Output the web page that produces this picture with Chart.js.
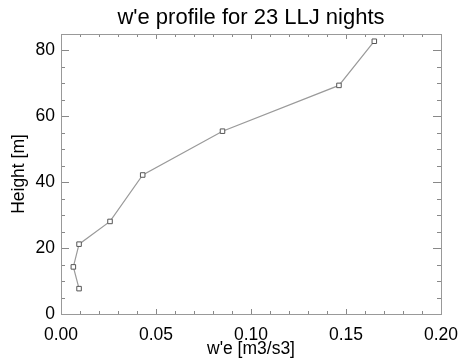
<!DOCTYPE html>
<html>
<head>
<meta charset="utf-8">
<script src="https://cdn.jsdelivr.net/npm/chart.js@4/dist/chart.umd.min.js"></script>
<style>
html,body{margin:0;padding:0;background:#fff;}
#wrap{width:459px;height:360px;}
</style>
</head>
<body>
<div id="wrap"><canvas id="c" width="459" height="360"></canvas></div>
<script>
const wPrime = [0.0095, 0.0065, 0.0095, 0.0258, 0.043, 0.085, 0.1463, 0.1649];
const heights = [7.7, 14.3, 21.2, 28.1, 42.2, 55.5, 69.4, 82.8];
const xTicks = [0, 0.05, 0.10, 0.15, 0.20];
const yTicks = [0, 20, 40, 60, 80];
const titleText = "w'e profile for 23 LLJ nights";

const FONT = "'Liberation Sans', Arial, Helvetica, sans-serif";

const inwardTicks = {
  id: 'inwardTicks',
  afterDraw(chart) {
    const ctx = chart.ctx, a = chart.chartArea;
    const xs = chart.scales.x, ys = chart.scales.y;
    ctx.save();
    ctx.strokeStyle = '#888';
    ctx.lineWidth = 1;
    ctx.beginPath();
    for (let i = 0; i <= 20; i++) {
      const v = i * 0.01;
      const px = Math.round(xs.getPixelForValue(v)) + 0.5;
      const len = (i % 5 === 0) ? 5 : 3;
      ctx.moveTo(px, a.bottom); ctx.lineTo(px, a.bottom - len);
      ctx.moveTo(px, a.top); ctx.lineTo(px, a.top + len);
    }
    for (let i = 0; i <= 17; i++) {
      const v = i * 5;
      const py = Math.round(ys.getPixelForValue(v)) + 0.5;
      const len = (i % 4 === 0) ? 8 : 4;
      ctx.moveTo(a.left, py); ctx.lineTo(a.left + len, py);
      ctx.moveTo(a.right, py); ctx.lineTo(a.right - len, py);
    }
    ctx.stroke();
    ctx.strokeStyle = '#999';
    ctx.strokeRect(Math.round(a.left) + 0.5, Math.round(a.top) + 0.5, Math.round(a.right - a.left), Math.round(a.bottom - a.top));
    // title centred over the plot area
    ctx.fillStyle = '#000';
    ctx.font = '22px ' + FONT;
    ctx.textAlign = 'center';
    ctx.textBaseline = 'middle';
    ctx.fillText(titleText, (a.left + a.right) / 2, 18);
    ctx.restore();
  }
};

new Chart(document.getElementById('c'), {
  type: 'scatter',
  data: {
    datasets: [{
      data: wPrime.map((x, i) => ({x: x, y: heights[i]})),
      showLine: true,
      borderColor: '#9a9a9a',
      borderWidth: 1.2,
      pointStyle: 'rect',
      pointRadius: 3.2,
      pointBackgroundColor: '#fff',
      pointBorderColor: '#555',
      pointBorderWidth: 1,
      tension: 0
    }]
  },
  options: {
    responsive: false,
    animation: false,
    events: [],
    layout: {padding: {left: 0, right: 18, top: 34, bottom: 0}},
    plugins: {
      legend: {display: false},
      tooltip: {enabled: false},
      title: {display: false}
    },
    scales: {
      x: {
        type: 'linear',
        min: 0, max: 0.2,
        afterFit(s) { s.height = 46; s.paddingLeft = 0; s.paddingRight = 0; },
        afterBuildTicks(s) { s.ticks = xTicks.map(v => ({value: v})); },
        grid: {display: false, drawTicks: false},
        border: {display: false},
        ticks: {
          color: '#000', padding: 11,
          font: {family: FONT, size: 17.5},
          callback: v => Number(v).toFixed(2),
          maxRotation: 0
        },
        title: {
          display: true, text: "w'e [m3/s3]", color: '#000',
          font: {family: FONT, size: 17.5},
          padding: {top: 0, bottom: 0}
        }
      },
      y: {
        type: 'linear',
        min: 0, max: 85,
        afterFit(s) { s.width = 61; s.paddingTop = 0; s.paddingBottom = 0; },
        afterBuildTicks(s) { s.ticks = yTicks.map(v => ({value: v})); },
        grid: {display: false, drawTicks: false},
        border: {display: false},
        ticks: {
          color: '#000', padding: 6,
          font: {family: FONT, size: 17.5}
        },
        title: {
          display: true, text: 'Height [m]', color: '#000',
          font: {family: FONT, size: 17.5},
          padding: {top: 9, bottom: 0}
        }
      }
    }
  },
  plugins: [inwardTicks]
});
</script>
</body>
</html>
